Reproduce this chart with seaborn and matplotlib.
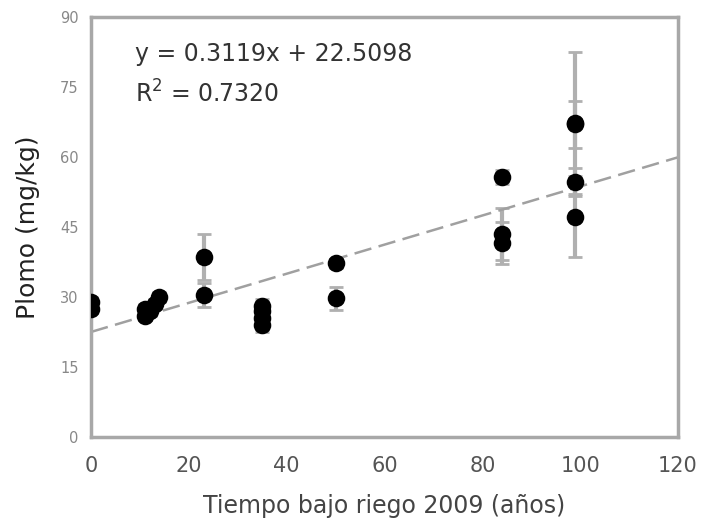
import matplotlib
matplotlib.use("Agg")
import matplotlib.pyplot as plt
import seaborn as sns
import numpy as np
import pandas as pd

# Data
years = [0, 0, 11, 11, 12, 13, 14, 23, 23, 35, 35, 35, 35, 50, 50, 84, 84, 84, 99, 99, 99, 99]
plomo = [27.5, 29.0, 26.0, 27.5, 27.0, 28.5, 30.0, 38.6, 30.4, 24.0, 25.5, 27.0, 28.0,
         37.2, 29.7, 55.8, 43.5, 41.5, 67.3, 67.0, 54.7, 47.2]
plomo_err = [1.0, 1.0, 1.0, 1.0, 1.0, 1.0, 1.0, 4.9, 2.5, 1.5, 1.5, 1.5, 1.5,
             1.0, 2.5, 1.5, 5.5, 4.5, 15.3, 5.0, 3.0, 8.7]
slope = 0.3119
intercept = 22.5098
r2 = 0.7320
x_ticks = [0, 20, 40, 60, 80, 100, 120]
y_ticks = [0, 15, 30, 45, 60, 75, 90]

df = pd.DataFrame({"years": years, "plomo": plomo, "err": plomo_err})
line_x = np.array([0, 120])
line_df = pd.DataFrame({"x": line_x, "y": slope * line_x + intercept})

sns.set_style("white")
plt.rcParams['font.family'] = ['DejaVu Sans']

fig = plt.figure(figsize=(7.02, 5.28), dpi=100)
ax = fig.add_axes([91/702, 1-437/528, (678-91)/702, (437-17)/528])

ax.errorbar(df["years"], df["plomo"], yerr=df["err"], fmt="none",
            ecolor="#b0b0b0", elinewidth=3, capsize=5, capthick=2, zorder=1)
sns.lineplot(data=line_df, x="x", y="y", ax=ax, color="#a0a0a0",
             linewidth=1.8, zorder=2)
ax.lines[-1].set_dashes((7, 3))
sns.scatterplot(data=df, x="years", y="plomo", ax=ax, color="black",
                s=160, edgecolor="black", linewidth=0, zorder=3)

ax.set_xlim(0, 120)
ax.set_ylim(0, 90)
ax.set_xticks(x_ticks)
ax.set_yticks(y_ticks)
ax.tick_params(axis="x", labelsize=15, labelcolor="#555555", direction="inout",
               length=8, width=1.5, color="#999999", pad=10)
ax.tick_params(axis="y", labelsize=10.5, labelcolor="#888888", direction="out",
               length=4, width=1.5, color="#999999", pad=5)
for sp in ax.spines.values():
    sp.set_color("#a8a8a8")
    sp.set_linewidth(2.5)
    sp.set_visible(True)

ax.set_xlabel("Tiempo bajo riego 2009 (años)", fontsize=17, color="#444444", labelpad=13)
ax.set_ylabel("Plomo (mg/kg)", fontsize=18, color="#222222", labelpad=14)

ax.text(0.075, 0.912, f"y = {slope:.4f}x + {intercept:.4f}", transform=ax.transAxes,
        fontsize=17, color="#333333", va="center", ha="left")
ax.text(0.075, 0.817, f"R$^{{2}}$ = {r2:.4f}", transform=ax.transAxes,
        fontsize=17, color="#333333", va="center", ha="left")

fig.savefig("out.png", dpi=100)
